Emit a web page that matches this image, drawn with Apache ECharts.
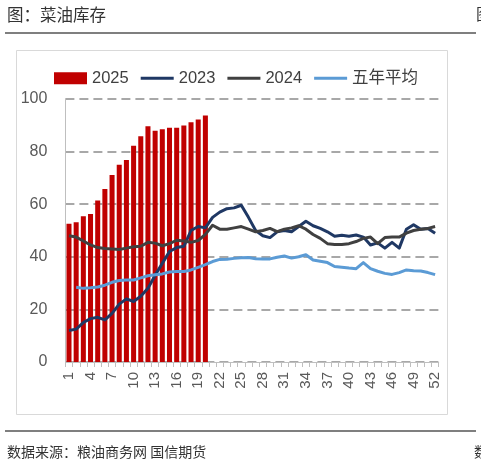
<!DOCTYPE html>
<html>
<head>
<meta charset="utf-8">
<script src="https://cdn.jsdelivr.net/npm/echarts@6/dist/echarts.min.js"></script>
<style>
html,body{margin:0;padding:0;background:#fff;}
#c{width:481px;height:465px;}
</style>
</head>
<body>
<div id="c"></div>
<script>
const weeks = ['1','2','3','4','5','6','7','8','9','10','11','12','13','14','15','16','17','18','19','20','21','22','23','24','25','26','27','28','29','30','31','32','33','34','35','36','37','38','39','40','41','42','43','44','45','46','47','48','49','50','51','52'];
const s2025 = [52.6,53.1,55.4,56.3,61.4,65.8,71.1,75.0,76.8,82.2,85.8,89.6,87.9,88.5,89.1,89.1,89.9,91.2,92.2,93.7];
const s2023 = [12,12.5,15,16.5,17,16,18.5,22,24,23,25,28,33,37.5,42,43.5,44,50,51.5,51,55,57,58.3,58.6,59.6,55,50,48,47.3,49.5,50,49.5,51.5,53.5,51.8,50.8,49.5,47.8,48.2,47.8,48.3,47.5,44.5,45.3,43.3,45.5,43.3,50.5,52.2,50.5,50.8,49];
const s2024 = [48,47.5,46,44.5,43.5,43.2,43,42.8,43.3,43.8,44,45.5,45.2,44.2,45,46.3,46,45.5,46.2,48.5,52,50.5,50.5,51,51.5,50.5,49.5,50,50.8,49.6,50.5,51,51.8,50.5,48.5,47,45,44.7,44.7,45,45.8,47,47.5,45,47.3,47.5,47.5,49,50,50.5,50.8,51.5];
const sAvg = [null,28.4,28,28.2,28.5,29.2,30.3,31,31.2,31.2,32,32.8,33.2,33.5,34.2,34.4,34.4,35,36,37,38.2,39,39.1,39.4,39.6,39.7,39.3,39.2,39.2,39.8,40.3,39.5,40,40.8,38.8,38.3,37.8,36.3,36,35.7,35.5,37.8,35.5,34.5,33.7,33.3,34,35,34.7,34.6,34,33.2];
const yTicks = [0,20,40,60,80,100];
const names = ['2025','2023','2024','五年平均'];

const chart = echarts.init(document.getElementById('c'), null, {renderer:'canvas'});
const numFont = '"Liberation Sans", Arial, "Noto Sans CJK SC", sans-serif';
const cjkFont = '"Noto Sans CJK SC", sans-serif';
const lineIcon = 'path://M0 0H33V3H0Z';
chart.setOption({
  animation:false,
  backgroundColor:'#fff',
  graphic:[
    {type:'text', left:7, top:6, style:{text:'图：菜油库存', font:'16.5px ' + cjkFont, fill:'#333'}},
    {type:'text', left:476, top:6, style:{text:'图', font:'16px ' + cjkFont, fill:'#333'}},
    {type:'line', shape:{x1:5,y1:33,x2:476,y2:33}, style:{stroke:'#555',lineWidth:1.5}},
    {type:'rect', shape:{x:16.5,y:50.5,width:431,height:364}, style:{fill:'none',stroke:'#D9D9D9',lineWidth:1}},
    {type:'line', shape:{x1:5,y1:431,x2:476,y2:431}, style:{stroke:'#555',lineWidth:1.5}},
    {type:'text', left:7, top:445, style:{text:'数据来源：粮油商务网 国信期货', font:'14px ' + cjkFont, fill:'#333'}},
    {type:'text', left:474, top:445, style:{text:'数', font:'14px ' + cjkFont, fill:'#333'}}
  ],
  legend:{
    left:54, top:70, padding:0, itemWidth:33, itemHeight:12, itemGap:12,
    data:[
      {name:names[0], icon:'rect'},
      {name:names[1], icon:lineIcon},
      {name:names[2], icon:lineIcon},
      {name:names[3], icon:lineIcon}
    ],
    textStyle:{fontSize:16.5, color:'#404040', fontFamily:numFont}
  },
  grid:{left:65.4, right:42.3, top:99, bottom:103},
  xAxis:{
    type:'category', data:weeks, boundaryGap:true,
    axisLine:{lineStyle:{color:'#BFBFBF', width:1}},
    axisTick:{show:true, length:5, interval:0, lineStyle:{color:'#BFBFBF'}},
    axisLabel:{interval:2, rotate:90, margin:10, fontSize:15, color:'#595959', fontFamily:numFont}
  },
  yAxis:{
    type:'value', min:yTicks[0], max:yTicks[yTicks.length-1], interval:20,
    axisLine:{show:true, lineStyle:{color:'#BFBFBF'}},
    axisTick:{show:false},
    axisLabel:{fontSize:16, color:'#595959', margin:18, fontFamily:numFont},
    splitLine:{show:true, lineStyle:{color:'#8C8C8C', width:1.5, type:[9,5]}}
  },
  series:[
    {name:names[0], type:'bar', data:s2025, barCategoryGap:'30%', itemStyle:{color:'#C00000'}, z:1},
    {name:names[1], type:'line', data:s2023, symbol:'none', lineStyle:{color:'#1F3864', width:3, join:'round'}, itemStyle:{color:'#1F3864'}, z:3},
    {name:names[2], type:'line', data:s2024, symbol:'none', lineStyle:{color:'#404040', width:3, join:'round'}, itemStyle:{color:'#404040'}, z:3},
    {name:names[3], type:'line', data:sAvg, symbol:'none', lineStyle:{color:'#5B9BD5', width:3, join:'round'}, itemStyle:{color:'#5B9BD5'}, z:3}
  ]
});
</script>
</body>
</html>
